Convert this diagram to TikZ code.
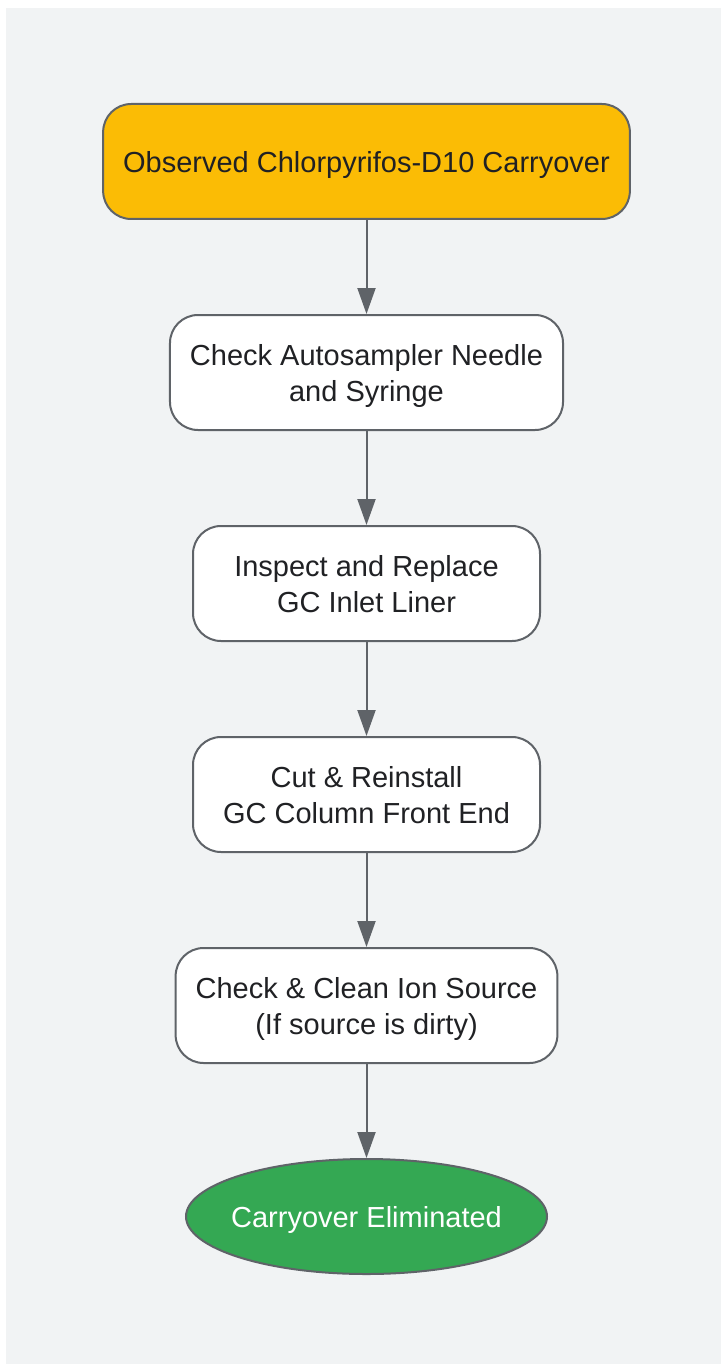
\documentclass[tikz,border=0pt]{standalone}
\usepackage{fontspec}
\setmainfont{Liberation Sans}
\usetikzlibrary{positioning,shapes.geometric,arrows.meta}
\definecolor{bgcol}{HTML}{F1F3F4}
\definecolor{edgecol}{HTML}{5F6368}
\definecolor{startcol}{HTML}{FBBC05}
\definecolor{endcol}{HTML}{34A853}
\definecolor{textcol}{HTML}{202124}

\tikzset{
  stepbox/.style={draw=edgecol, line width=2pt, fill=white, rounded corners=28pt, minimum height=115pt, inner xsep=20pt, text depth=0pt, align=center, text=textcol},
  startbox/.style={stepbox, fill=startcol},
  endbox/.style={ellipse, draw=edgecol, line width=2pt, fill=endcol, minimum width=361pt, minimum height=115pt, inner xsep=-8pt, inner ysep=0pt, text depth=0pt, text=white},
  flow/.style={draw=edgecol, line width=2pt, -{Triangle[width=18pt,length=26pt]}}
}

\begin{document}
\begin{tikzpicture}[x=1pt,y=1pt,node distance=94pt,font=\fontsize{29}{36}\selectfont]
    \useasboundingbox (0,0) rectangle (721,-1364);
    \fill[bgcol] (6,-8) rectangle (721,-1364);
    \node[startbox] (observed) at (366.5,-161.5) {Observed Chlorpyrifos-D10 Carryover};
    \node[stepbox, below=of observed] (needle) {Check Autosampler Needle\\and Syringe};
    \node[stepbox, minimum width=347pt, below=of needle] (liner) {Inspect and Replace\\GC Inlet Liner};
    \node[stepbox, minimum width=347pt, below=of liner] (column) {Cut \& Reinstall\\GC Column Front End};
    \node[stepbox, below=of column] (source) {Check \& Clean Ion Source\\(If source is dirty)};
    \node[endbox, below=of source] (done) {Carryover Eliminated};
    \draw[flow] (observed) -- (needle);
    \draw[flow] (needle) -- (liner);
    \draw[flow] (liner) -- (column);
    \draw[flow] (column) -- (source);
    \draw[flow] (source) -- (done);
\end{tikzpicture}
\end{document}
